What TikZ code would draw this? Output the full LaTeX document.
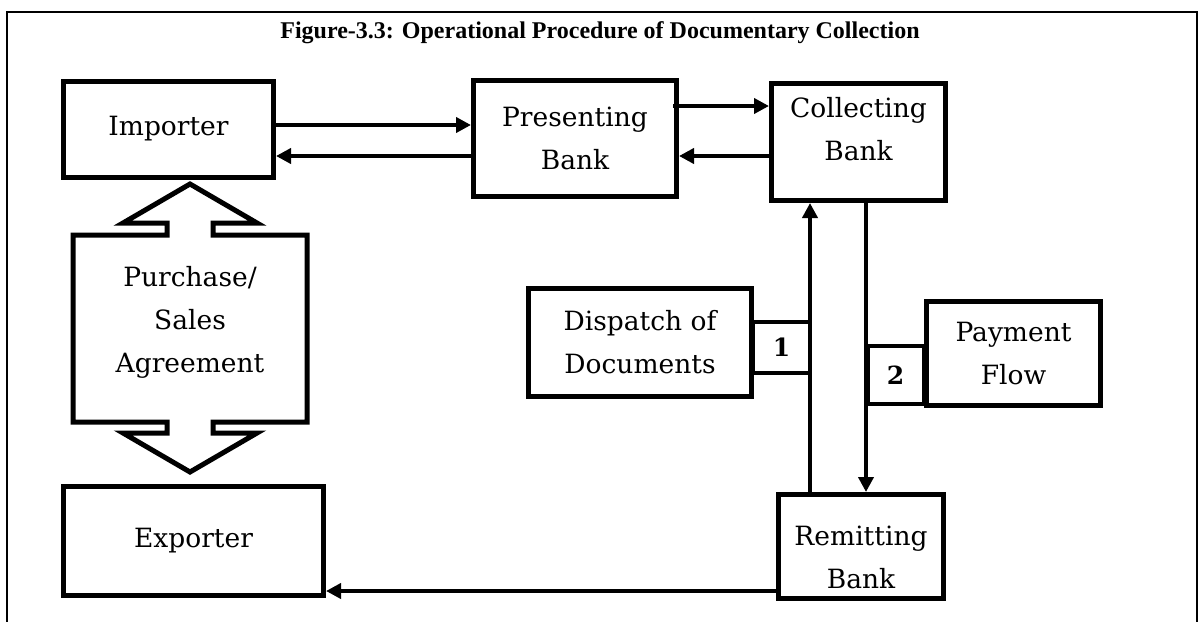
\documentclass[tikz,border=0pt]{standalone}
\usepackage{fontspec}
\usetikzlibrary{arrows.meta}
\newfontfamily\boxfont{DejaVu Serif}
\newfontfamily\titlefont{Liberation Serif}
\begin{document}
\begin{tikzpicture}[x=1pt,y=-1pt,
    box/.style={draw,line width=5pt,align=center,inner sep=0pt,
      font=\boxfont\fontsize{26.5}{43}\selectfont},
    boxtext/.style={align=center,inner sep=0pt,
      font=\boxfont\fontsize{26.5}{43}\selectfont},
    numbox/.style={draw,line width=4pt,inner sep=0pt,
      font=\boxfont\bfseries\fontsize{25}{30}\selectfont},
    arr/.style={line width=4.5pt,-{Triangle[length=15pt,width=15pt]}}]
  \useasboundingbox (0,0) rectangle (1199,621);
  \draw[line width=2pt] (7,640) -- (7,12) -- (1197,12) -- (1197,640);
  \node (title) at (600,33)
    {\titlefont\bfseries\fontsize{24}{28}\selectfont Figure-3.3: Operational Procedure of Documentary Collection};
  % boxes
  \node[box,minimum width=210,minimum height=96] (imp) at (168.5,129) {Importer};
  \node[box,minimum width=203,minimum height=116] (pres) at (575,138.5) {Presenting\\Bank};
  \node[box,minimum width=174,minimum height=117] (coll) at (858.5,142) {};
  \node[boxtext] (colltxt) at ([yshift=13pt]coll.center) {Collecting\\Bank};
  \node[box,minimum width=223,minimum height=108] (disp) at (640,342.5) {Dispatch of\\Documents};
  \node[box,minimum width=174,minimum height=104] (pay) at (1013.5,353.5) {Payment\\Flow};
  \node[box,minimum width=260,minimum height=109] (exp) at (193.5,541) {Exporter};
  \node[box,minimum width=165,minimum height=104] (rem) at (861,546.5) {};
  \node[boxtext] (remtxt) at ([yshift=-11pt]rem.center) {Remitting\\Bank};
  \node[numbox,minimum width=57,minimum height=51] (one) at (781.5,347.5) {1};
  \node[numbox,minimum width=56,minimum height=58] (two) at (895.5,375) {2};
  % agreement arrow
  \draw[line width=5pt,line join=miter]
    (190,184) -- (257,223) -- (213,223) -- (213,235) -- (307,235) -- (307,422)
    -- (213,422) -- (213,433) -- (257,433) -- (190,472) -- (123,433) -- (167,433)
    -- (167,422) -- (73,422) -- (73,235) -- (167,235) -- (167,223) -- (123,223) -- cycle;
  \node[boxtext] (agree) at (190,322) {Purchase/\\Sales\\Agreement};
  % flows
  \draw[arr] ([yshift=4pt]imp.east) -- ([yshift=4pt]imp.east -| pres.west);
  \draw[arr] ([yshift=-17.5pt]pres.west) -- ([yshift=-17.5pt]pres.west -| imp.east);
  \draw[arr] ([yshift=32.5pt,xshift=-6pt]pres.east) -- ([yshift=32.5pt]pres.east -| coll.west);
  \draw[arr] ([yshift=-14pt]coll.west) -- ([yshift=-14pt]coll.west -| pres.east);
  \draw[arr] ([xshift=-51pt]rem.north) -- ([xshift=-51pt]rem.north |- coll.south);
  \draw[arr] ([xshift=7.5pt]coll.south) -- ([xshift=7.5pt]coll.south |- rem.north);
  \draw[arr] ([yshift=-44.5pt]rem.west) -- ([yshift=-44.5pt]rem.west -| exp.east);
\end{tikzpicture}
\end{document}
